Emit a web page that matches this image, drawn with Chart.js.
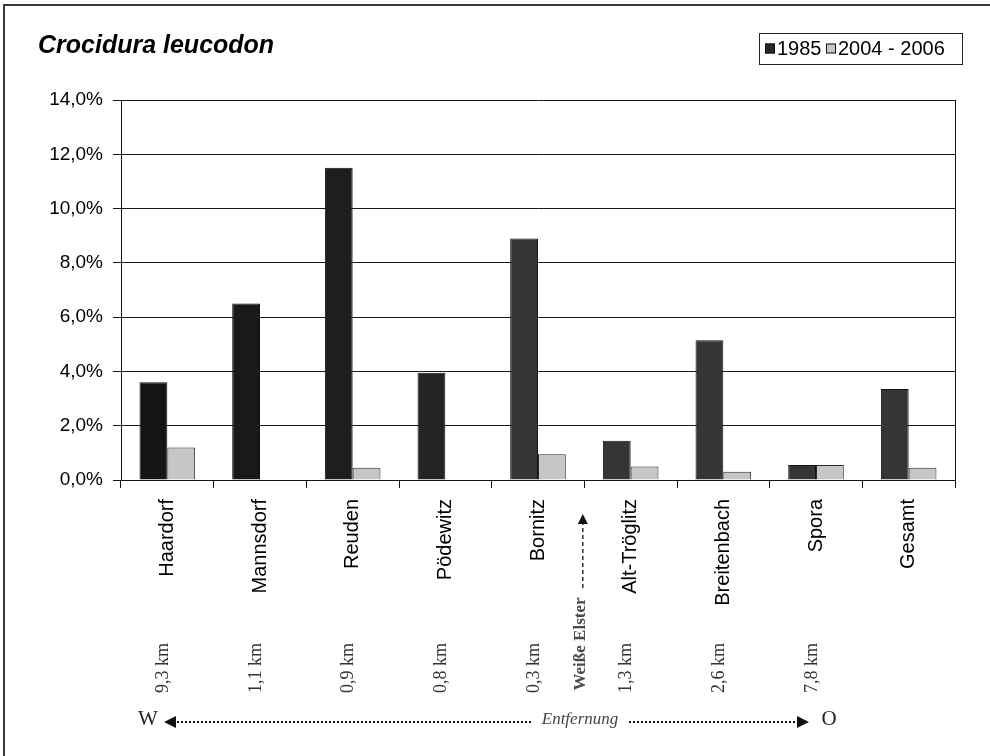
<!DOCTYPE html>
<html>
<head>
<meta charset="utf-8">
<script src="https://cdn.jsdelivr.net/npm/chart.js@4.4.1/dist/chart.umd.min.js"></script>
<style>
  html, body { margin: 0; background: #fff; }
  #wrap { width: 990px; height: 756px; position: relative; }
</style>
</head>
<body>
<div id="wrap"><canvas id="chart"></canvas></div>
<script>
// Anteil Crocidura leucodon je Fangort
const sites = ['Haardorf', 'Mannsdorf', 'Reuden', 'Pödewitz', 'Bornitz', 'Alt-Tröglitz', 'Breitenbach', 'Spora', 'Gesamt'];
const share1985 = [3.6, 6.5, 11.5, 3.95, 8.9, 1.45, 5.15, 0.55, 3.35];
const share2004 = [1.2, 0, 0.45, 0, 0.95, 0.5, 0.3, 0.55, 0.45];
const distances = ['9,3 km', '1,1 km', '0,9 km', '0,8 km', '0,3 km', '1,3 km', '2,6 km', '7,8 km', ''];
const yTicks = [0, 2, 4, 6, 8, 10, 12, 14];
const seriesNames = ['1985', '2004 - 2006'];

const DARK = '#262626', LIGHT = '#c6c6c6';
const fmtPct = v => v.toFixed(1).replace('.', ',') + '%';

function arrowHead(ctx, x, y, dir, size) {
    // dir: 'left' | 'right' | 'up'
    ctx.beginPath();
    if (dir === 'left') { ctx.moveTo(x, y); ctx.lineTo(x + size, y - size / 2); ctx.lineTo(x + size, y + size / 2); }
    if (dir === 'right') { ctx.moveTo(x, y); ctx.lineTo(x - size, y - size / 2); ctx.lineTo(x - size, y + size / 2); }
    if (dir === 'up') { ctx.moveTo(x, y); ctx.lineTo(x - size / 2, y + size); ctx.lineTo(x + size / 2, y + size); }
    ctx.closePath(); ctx.fill();
}

const decor = {
    id: 'decor',
    beforeDraw(chart) {
        const c = chart.ctx;
        c.save();
        c.fillStyle = '#fff'; c.fillRect(0, 0, chart.width, chart.height);
        // Rahmen
        c.strokeStyle = '#3a3a3a'; c.lineWidth = 2;
        c.beginPath(); c.moveTo(4, chart.height); c.lineTo(4, 5); c.lineTo(chart.width, 5); c.stroke();
        c.restore();
    },
    afterDraw(chart) {
        const c = chart.ctx, a = chart.chartArea, x = chart.scales.x;
        c.save();

        // rechte Begrenzung der Zeichenfläche
        c.strokeStyle = '#111'; c.lineWidth = 1;
        c.beginPath(); c.moveTo(Math.round(a.right) + 0.5, a.top); c.lineTo(Math.round(a.right) + 0.5, a.bottom); c.stroke();

        // Titel
        c.fillStyle = '#000';
        c.font = 'italic bold 25px "Liberation Sans", Arial, sans-serif';
        c.textBaseline = 'middle'; c.textAlign = 'left';
        c.fillText('Crocidura leucodon', 38, 46);

        // Legende
        const lx = 759, ly = 33, lw = 203, lh = 31;
        c.strokeStyle = '#222'; c.lineWidth = 1;
        c.strokeRect(lx + 0.5, ly + 0.5, lw, lh);
        c.font = '20px "Liberation Sans", Arial, sans-serif';
        const my = ly + lh / 2;
        c.fillStyle = DARK; c.fillRect(765, my - 5, 10, 10);
        c.strokeStyle = '#111'; c.strokeRect(765.5, my - 4.5, 9, 9);
        c.fillStyle = '#000'; c.fillText(seriesNames[0], 777, my + 1);
        c.fillStyle = LIGHT; c.fillRect(826, my - 5, 10, 10);
        c.strokeStyle = '#111'; c.strokeRect(826.5, my - 4.5, 9, 9);
        c.fillStyle = '#000'; c.fillText(seriesNames[1], 838, my + 1);

        // Entfernungen unter den Ortsnamen
        c.fillStyle = '#333';
        c.font = '18px "Liberation Serif", "Times New Roman", serif';
        c.textAlign = 'center'; c.textBaseline = 'middle';
        distances.forEach((d, i) => {
            if (!d) return;
            c.save();
            c.translate(x.getPixelForValue(i) - 4, 668);
            c.rotate(-Math.PI / 2);
            c.fillText(d, 0, 0);
            c.restore();
        });

        // Weiße Elster zwischen Bornitz und Alt-Tröglitz
        const ex = (x.getPixelForValue(4) + x.getPixelForValue(5)) / 2 - 3;
        c.save();
        c.translate(ex - 1, 644);
        c.rotate(-Math.PI / 2);
        c.fillStyle = '#4a4a4a';
        c.font = 'bold 17px "Liberation Serif", "Times New Roman", serif';
        c.fillText('Weiße Elster', 0, 0);
        c.restore();
        c.strokeStyle = '#111'; c.lineWidth = 1.3;
        c.setLineDash([4, 3]);
        c.beginPath(); c.moveTo(ex + 1.5, 588); c.lineTo(ex + 1.5, 524); c.stroke();
        c.setLineDash([]);
        c.fillStyle = '#111';
        arrowHead(c, ex + 1.5, 514, 'up', 10);

        // W <---- Entfernung ----> O
        const ry = 720;
        c.fillStyle = '#222';
        c.font = '21px "Liberation Serif", "Times New Roman", serif';
        c.fillText('W', 148, ry - 1);
        c.fillText('O', 829, ry - 1);
        c.font = 'italic 17px "Liberation Serif", "Times New Roman", serif';
        c.fillStyle = '#444';
        c.fillText('Entfernung', 580, ry);
        c.fillStyle = '#111';
        arrowHead(c, 164, ry + 2, 'left', 12);
        arrowHead(c, 809, ry + 2, 'right', 12);
        c.strokeStyle = '#111'; c.lineWidth = 2;
        c.setLineDash([2, 2]);
        c.beginPath();
        c.moveTo(177, ry + 2); c.lineTo(531, ry + 2);
        c.moveTo(629, ry + 2); c.lineTo(797, ry + 2);
        c.stroke();
        c.setLineDash([]);

        c.restore();
    }
};

new Chart(document.getElementById('chart'), {
    type: 'bar',
    data: {
        labels: sites,
        datasets: [
            { label: seriesNames[0], data: share1985, backgroundColor: ['#151515', '#191919', '#1e1e1e', '#242424', '#353535', '#353535', '#353535', '#353535', '#353535'], borderColor: '#111', borderWidth: 1 },
            { label: seriesNames[1], data: share2004, backgroundColor: LIGHT, borderColor: '#2a2a2a', borderWidth: 1 }
        ]
    },
    options: {
        responsive: true,
        maintainAspectRatio: false,
        animation: false,
        layout: { padding: { top: 100, right: 35, left: 0, bottom: 0 } },
        datasets: { bar: { categoryPercentage: 0.6, barPercentage: 1.0 } },
        plugins: { legend: { display: false }, tooltip: { enabled: false } },
        scales: {
            x: {
                afterFit: s => { s.height = 276; },
                grid: { drawOnChartArea: false, drawTicks: true, tickLength: 8, color: '#111', offset: true },
                border: { display: true, color: '#111', width: 1 },
                ticks: {
                    minRotation: 90, maxRotation: 90, padding: 11, autoSkip: false,
                    color: '#000', font: { family: '"Liberation Sans", Arial, sans-serif', size: 20 }
                }
            },
            y: {
                min: 0, max: 14,
                afterFit: s => { s.width = 121; },
                afterBuildTicks: s => { s.ticks = yTicks.map(v => ({ value: v })); },
                grid: { color: '#1a1a1a', lineWidth: 1, tickLength: 8 },
                border: { display: true, color: '#111', width: 1 },
                ticks: {
                    padding: 10, color: '#000',
                    font: { family: '"Liberation Sans", Arial, sans-serif', size: 19 },
                    callback: v => fmtPct(v)
                }
            }
        }
    },
    plugins: [decor]
});
</script>
</body>
</html>
